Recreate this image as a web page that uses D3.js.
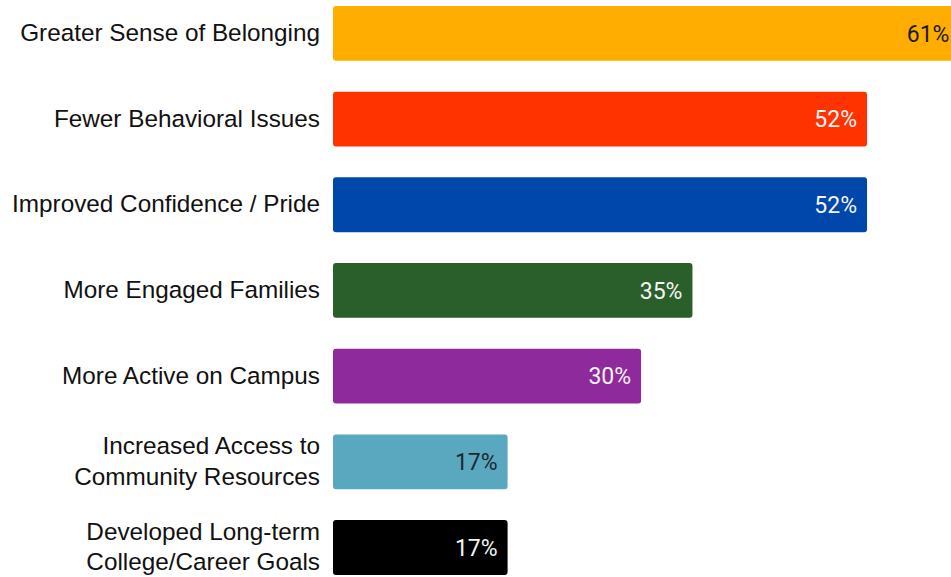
<!DOCTYPE html>
<html><head><meta charset="utf-8">
<script src="https://cdn.jsdelivr.net/npm/d3@7"></script>
<style>html,body{margin:0;padding:0;background:#fff;overflow:hidden}</style>
</head><body>
<svg id="chart" width="951" height="577"></svg>
<script>
const categories = [
  ["Greater Sense of Belonging"],
  ["Fewer Behavioral Issues"],
  ["Improved Confidence / Pride"],
  ["More Engaged Families"],
  ["More Active on Campus"],
  ["Increased Access to", "Community Resources"],
  ["Developed Long-term", "College/Career Goals"]
];
const values = [61, 52, 52, 35, 30, 17, 17];
const barColors = ["#FFAD00", "#FF3300", "#0047AB", "#2A5E2A", "#8E2A9B", "#5AA8BF", "#000000"];
const labelColors = ["#1a1a1a", "#f4f4f4", "#f4f4f4", "#f4f4f4", "#f4f4f4", "#1a2a30", "#f4f4f4"];

const svg = d3.select("#chart");
const keys = categories.map(c => c.join(" "));
const y = d3.scaleBand().domain(keys).range([-9.4, 590.3]).paddingInner(0.36).paddingOuter(0.18);
const x = d3.scaleLinear().domain([0, 100]).range([333, 1360]);

const data = keys.map((k, i) => ({k, lines: categories[i], v: values[i], c: barColors[i], lc: labelColors[i]}));

svg.selectAll("rect.bar").data(data).join("rect")
  .attr("class", "bar")
  .attr("x", x(0)).attr("y", d => y(d.k))
  .attr("width", d => x(d.v) - x(0)).attr("height", y.bandwidth())
  .attr("rx", 3).attr("fill", d => d.c);

// category labels
const lab = svg.selectAll("text.cat").data(data).join("text")
  .attr("class", "cat")
  .attr("text-anchor", "end")
  .attr("font-family", "Liberation Sans, Arial, sans-serif")
  .attr("font-size", 24.3).attr("fill", "#111");
lab.each(function(d) {
  const t = d3.select(this);
  const cy = y(d.k) + y.bandwidth() / 2;
  const n = d.lines.length;
  const lh = 30.5;
  d.lines.forEach((line, j) => {
    t.append("tspan").attr("x", 320)
      .attr("y", cy + (j - (n - 1) / 2) * lh - 1)
      .attr("dy", "0.35em").text(line);
  });
});

// value labels
svg.selectAll("text.val").data(data).join("text")
  .attr("class", "val")
  .attr("text-anchor", "end")
  .attr("font-family", "Roboto, sans-serif")
  .attr("font-size", 23)
  .attr("x", d => x(d.v) - 10)
  .attr("y", d => y(d.k) + y.bandwidth() / 2)
  .attr("dy", "0.36em")
  .attr("fill", d => d.lc)
  .text(d => d.v + "%");
</script>
</body></html>
